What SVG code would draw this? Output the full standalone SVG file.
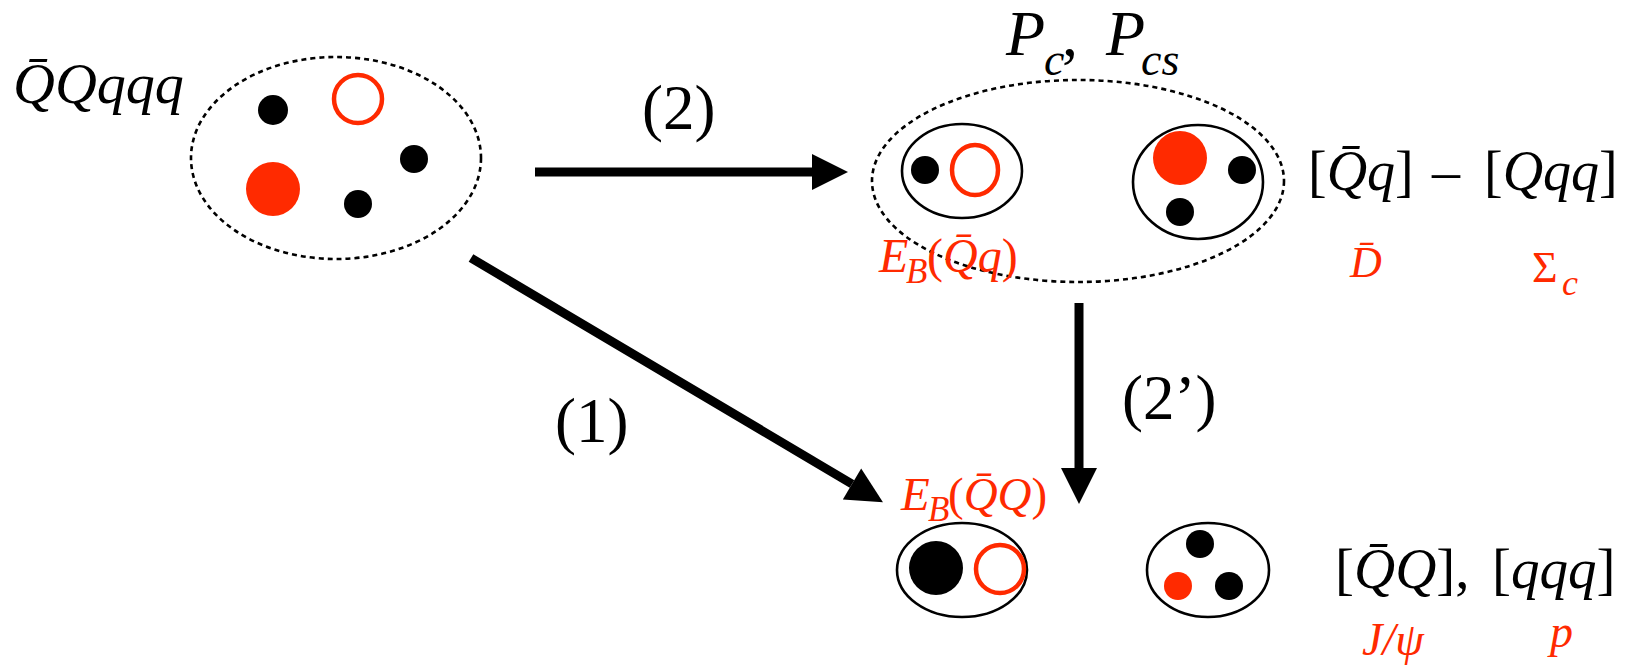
<svg xmlns="http://www.w3.org/2000/svg" width="1631" height="666" viewBox="0 0 1631 666">
<style>
text{font-family:"Liberation Serif","Times New Roman",serif;fill:#000}
.i{font-style:italic}
.n{font-style:normal}
.red{fill:#ff2a00}
.dot{fill:#000}
.rdot{fill:#ff2a00}
.ring{fill:none;stroke:#ff2a00;stroke-width:4.5}
.dash{fill:none;stroke:#000;stroke-width:2.6;stroke-dasharray:5 4}
.solid{fill:none;stroke:#000;stroke-width:2.6}
.arrow{stroke:#000;stroke-width:9;fill:none;marker-end:url(#head)}
</style>
<defs>
<marker id="head" markerUnits="userSpaceOnUse" markerWidth="36" markerHeight="36" refX="0" refY="18" orient="auto" overflow="visible">
<path d="M0,0 L36,18 L0,36 z" fill="#000"/>
</marker>
</defs>

<g id="connectors">
<line class="arrow" x1="535" y1="172" x2="812" y2="172"/>
<line class="arrow" x1="471" y1="258" x2="852" y2="484"/>
<line class="arrow" x1="1079" y1="303" x2="1079" y2="468"/>
<text x="642" y="129" font-size="63">(2)</text>
<text x="555" y="442" font-size="63">(1)</text>
<text x="1122" y="419" font-size="63">(2’)</text>
</g>

<g id="initial">
<text class="i" x="13" y="103" font-size="58">Q̄Qqqq</text>
<ellipse class="dash" cx="336" cy="158" rx="145" ry="101"/>
<circle class="dot" cx="273" cy="110" r="15"/>
<circle class="ring" cx="358" cy="99" r="24"/>
<circle class="rdot" cx="273" cy="189" r="27"/>
<circle class="dot" cx="414" cy="159" r="14"/>
<circle class="dot" cx="358" cy="204" r="14"/>
</g>

<g id="pentaquark">
<text font-size="64" y="55"><tspan class="i" x="1006">P</tspan><tspan class="i" x="1044" y="75" font-size="46">c</tspan><tspan x="1062" y="56">, </tspan><tspan class="i" x="1106" y="55">P</tspan><tspan class="i" x="1141" y="75" font-size="46">cs</tspan></text>
<ellipse class="dash" cx="1078" cy="181" rx="206" ry="101"/>
<g id="meson-cluster">
<ellipse class="solid" cx="962" cy="171" rx="60" ry="47"/>
<circle class="dot" cx="925" cy="170" r="14"/>
<ellipse class="ring" cx="975" cy="170" rx="23" ry="25"/>
</g>
<g id="baryon-cluster">
<ellipse class="solid" cx="1198" cy="182" rx="65" ry="57"/>
<ellipse class="rdot" cx="1180" cy="158" rx="27" ry="27"/>
<circle class="dot" cx="1242" cy="170" r="14"/>
<circle class="dot" cx="1180" cy="212" r="14"/>
</g>
<text class="red" font-size="48" y="272"><tspan class="i" x="879">E</tspan><tspan class="i" x="906" y="283" font-size="35">B</tspan><tspan x="927" y="272">(</tspan><tspan class="i">Q̄q</tspan><tspan>)</tspan></text>
</g>

<g id="label-molecule">
<text x="1308" y="190" font-size="56">[<tspan class="i">Q̄q</tspan>]</text>
<text x="1432" y="190" font-size="56">–</text>
<text x="1484" y="190" font-size="56">[<tspan class="i">Qqq</tspan>]</text>
<text class="red i" x="1350" y="277" font-size="44">D̄</text>
<text class="red" font-size="44" y="282"><tspan x="1532">Σ</tspan><tspan class="i" x="1562" y="295" font-size="36">c</tspan></text>
</g>

<g id="quarkonium">
<text class="red" font-size="47" y="510"><tspan class="i" x="901">E</tspan><tspan class="i" x="928" y="521" font-size="35">B</tspan><tspan x="948" y="510">(</tspan><tspan class="i">Q̄Q</tspan><tspan>)</tspan></text>
<ellipse class="solid" cx="962" cy="570" rx="65" ry="47"/>
<circle class="dot" cx="936" cy="568" r="27"/>
<circle class="ring" cx="1000" cy="569" r="24"/>
</g>

<g id="nucleon">
<ellipse class="solid" cx="1208" cy="570" rx="61" ry="47"/>
<circle class="dot" cx="1200" cy="544" r="14"/>
<circle class="rdot" cx="1178" cy="586" r="14"/>
<circle class="dot" cx="1229" cy="586" r="14"/>
</g>

<g id="label-final">
<text x="1335" y="588" font-size="57">[<tspan class="i">Q̄Q</tspan>],</text>
<text x="1492" y="588" font-size="57">[<tspan class="i">qqq</tspan>]</text>
<text class="red i" x="1362" y="655" font-size="46">J/ψ</text>
<text class="red i" x="1550" y="647" font-size="46">p</text>
</g>
</svg>
